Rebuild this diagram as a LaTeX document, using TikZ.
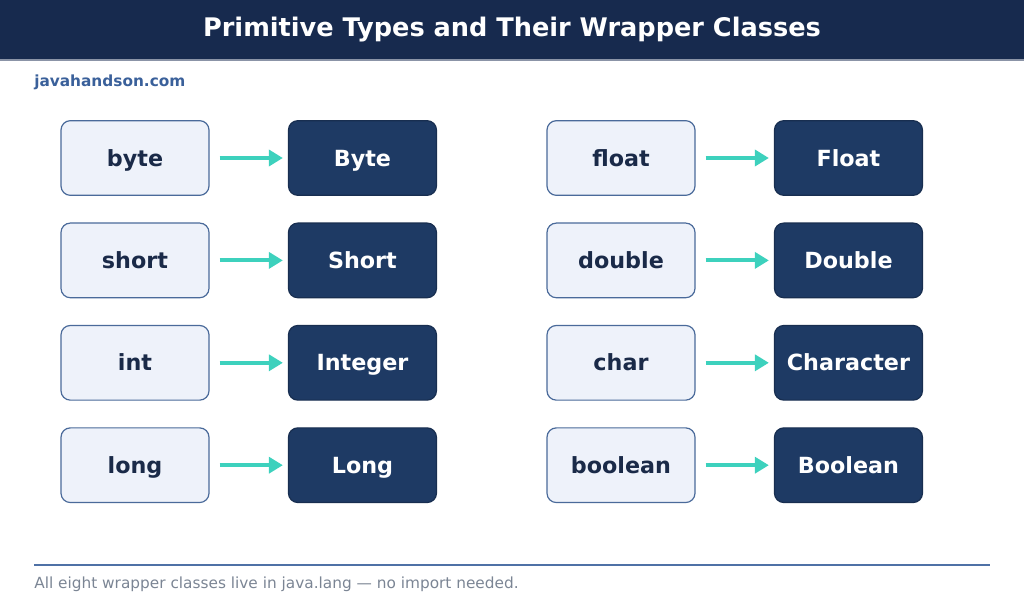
\documentclass[tikz,border=0pt]{standalone}
\usepackage{fontspec}
\setmainfont{DejaVu Sans}
\usepackage{tikz}
\usetikzlibrary{arrows.meta,positioning}
\definecolor{navy}{HTML}{172A4E}
\definecolor{wrapblue}{HTML}{1E3A64}
\definecolor{primfill}{HTML}{EEF2FA}
\definecolor{primline}{HTML}{4A6A9A}
\definecolor{inkdark}{HTML}{1A2A48}
\definecolor{teal}{HTML}{3DD1BD}
\definecolor{sitecol}{HTML}{3A609A}
\definecolor{rulecol}{HTML}{4F71A6}
\definecolor{notecol}{HTML}{7B8594}
\tikzset{%
	prim/.style  = {draw=primline, fill=primfill, line width=0.9pt, rounded corners=7pt, minimum width=111pt, minimum height=56pt, text height=12.2pt, text depth=0pt, text=inkdark, font=\bfseries\fontsize{16.7}{19}\selectfont}, % primitive type
	wrap/.style  = {draw=wrapblue!80!black, fill=wrapblue, line width=0.9pt, rounded corners=7pt, minimum width=111pt, minimum height=56pt, text height=12.2pt, text depth=0pt, text=white, font=\bfseries\fontsize{16.7}{19}\selectfont}, % wrapper class
	conv/.style  = {draw=teal, line width=3pt, -{Triangle[length=10.5pt,width=12pt]}, shorten <=7.5pt, shorten >=3.75pt},
}
\begin{document}
\begin{tikzpicture}[x=0.75pt,y=-0.75pt,node distance=170.6pt]
		\useasboundingbox (0,0) rectangle (1024,614);
		% header
		\fill[navy] (0,0) rectangle (1024,60);
		\draw[navy!50!white, line width=1pt] (0,60) -- (1024,60);
		\node [text=white,font=\bfseries\fontsize{19.2}{22}\selectfont] (title) at (512,30) {Primitive Types and Their Wrapper Classes};
		\node [anchor=west,inner sep=0pt,text=sitecol,font=\bfseries\fontsize{11.5}{13}\selectfont] (site) at (34,82) {javahandson.com};
		
		% left column
		\node [prim] (pbyte) at (135,158) {byte};
		\node [wrap] (wbyte) [right of=pbyte] {Byte};
		\node [prim] (pshort) [below of=pbyte,node distance=76.8pt] {short};
		\node [wrap] (wshort) [right of=pshort] {Short};
		\node [prim] (pint) [below of=pshort,node distance=76.8pt] {int};
		\node [wrap] (wint) [right of=pint] {Integer};
		\node [prim] (plong) [below of=pint,node distance=76.8pt] {long};
		\node [wrap] (wlong) [right of=plong] {Long};
		
		% right column
		\node [prim] (pfloat) [right of=pbyte,node distance=364.5pt] {float};
		\node [wrap] (wfloat) [right of=pfloat] {Float};
		\node [prim] (pdouble) [below of=pfloat,node distance=76.8pt] {double};
		\node [wrap] (wdouble) [right of=pdouble] {Double};
		\node [prim] (pchar) [below of=pdouble,node distance=76.8pt] {char};
		\node [wrap] (wchar) [right of=pchar] {Character};
		\node [prim] (pboolean) [below of=pchar,node distance=76.8pt] {boolean};
		\node [wrap] (wboolean) [right of=pboolean] {Boolean};
		
		\draw[conv] (pbyte) -- (wbyte);
		\draw[conv] (pshort) -- (wshort);
		\draw[conv] (pint) -- (wint);
		\draw[conv] (plong) -- (wlong);
		\draw[conv] (pfloat) -- (wfloat);
		\draw[conv] (pdouble) -- (wdouble);
		\draw[conv] (pchar) -- (wchar);
		\draw[conv] (pboolean) -- (wboolean);
		
		% footer
		\coordinate (rl) at (34,565);
		\coordinate (rr) at (990,565);
		\draw[rulecol, line width=1.5pt] (rl) -- (rr);
		\node [anchor=west,inner sep=0pt,text=notecol,font=\fontsize{11.5}{13}\selectfont] (note) at (34,584) {All eight wrapper classes live in java.lang — no import needed.};
\end{tikzpicture}
\end{document}
